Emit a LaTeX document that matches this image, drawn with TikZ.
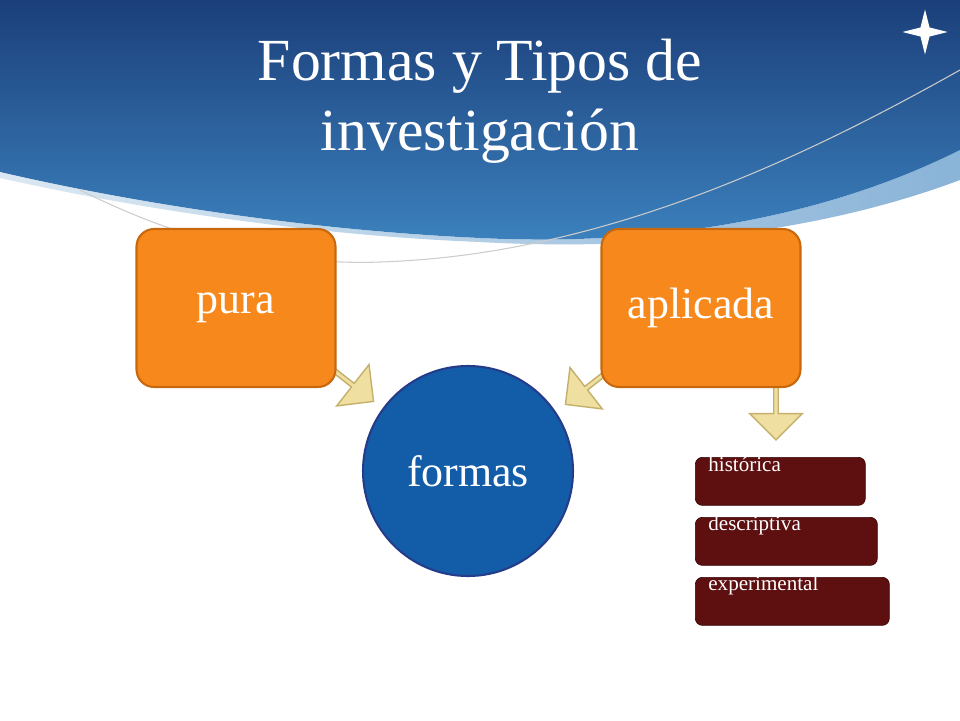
\documentclass[tikz,border=0pt]{standalone}
\usepackage{fontspec}
\setmainfont{Liberation Serif}
\usetikzlibrary{shapes.arrows,shapes.geometric}
\definecolor{hdrA}{HTML}{1B3F7A}
\definecolor{hdrB}{HTML}{3C82BE}
\definecolor{org}{HTML}{F7891C}
\definecolor{orgb}{HTML}{C8680E}
\definecolor{cblue}{HTML}{135DA8}
\definecolor{cblueb}{HTML}{243C8A}
\definecolor{arr}{HTML}{EFE0A2}
\definecolor{arrb}{HTML}{C4B06A}
\definecolor{dred}{HTML}{5E1011}
\definecolor{dredb}{HTML}{3A0808}
\begin{document}
\begin{tikzpicture}[x=0.02cm,y=-0.02cm,
  bigbox/.style={draw=orgb,line width=1.2pt,fill=org,rounded corners=10pt,minimum width=3.98cm,minimum height=3.16cm,text=white,font=\fontsize{25}{30}\selectfont},
  blockarr/.style={single arrow,draw=arrb,line width=0.8pt,fill=arr,single arrow head extend=0.15cm,minimum height=1.15cm,minimum width=1.05cm,inner sep=0pt},
  smallbox/.style={draw=dredb,fill=dred,rounded corners=4pt,minimum height=0.96cm,text=white,anchor=north west,align=left,font=\fontsize{12}{14}\selectfont,inner xsep=6pt,inner ysep=3pt},
  boxtext/.style={text=white,anchor=north west,font=\fontsize{12}{14}\selectfont,inner sep=0pt}]
\useasboundingbox (0,0) rectangle (960,720);
\fill[white] (0,0) rectangle (960,720);
% header
\shade[top color=hdrA,bottom color=hdrB] (0,0) -- (960,0) -- (960,150) .. controls (800,230) and (620,245) .. (480,238) .. controls (300,230) and (120,200) .. (0,172) -- cycle;
\shade[left color=hdrB!30!white,right color=hdrB,opacity=0.6] (0,172) .. controls (120,200) and (300,230) .. (480,238) .. controls (620,245) and (800,230) .. (960,150) -- (960,180) .. controls (800,240) and (620,250) .. (480,242) .. controls (300,235) and (120,205) .. (0,178) -- cycle;
\draw[gray!40,line width=0.6pt] (80,190) .. controls (200,250) and (300,265) .. (380,262) .. controls (600,255) and (800,160) .. (960,70);
\node[star,star points=4,star point ratio=3.5,fill=white,minimum size=0.9cm,inner sep=0pt] (logo) at (925,32) {};
\node[text=white,align=center,font=\fontsize{34}{40}\selectfont] (title) at (480,101) {Formas y Tipos de\\investigación};
% arrows
\node[blockarr,rotate=-38] (la) at (350,383) {};
\node[blockarr,rotate=218] (ra) at (589,386) {};
\node[blockarr,rotate=-90] (da) at (776,410) {};
% boxes
\node[bigbox] (pura) at (236,308) {pura};
\node[bigbox] (apl) at (701,308) {aplicada};
\node[circle,draw=cblueb,line width=1.2pt,fill=cblue,minimum size=4.2cm,text=white,font=\fontsize{25}{30}\selectfont] (formas) at (468,471) {formas};
\node[smallbox,minimum width=3.4cm] (hist) at (695,457) {};
\node[smallbox,minimum width=3.64cm] (desc) at (695,517) {};
\node[smallbox,minimum width=3.88cm] (exp) at (695,577) {};
\node[boxtext] (histt) at (708,456) {histórica};
\node[boxtext] (desct) at (708,516) {descriptiva};
\node[boxtext] (expt) at (708,576) {experimental};
\end{tikzpicture}
\end{document}
